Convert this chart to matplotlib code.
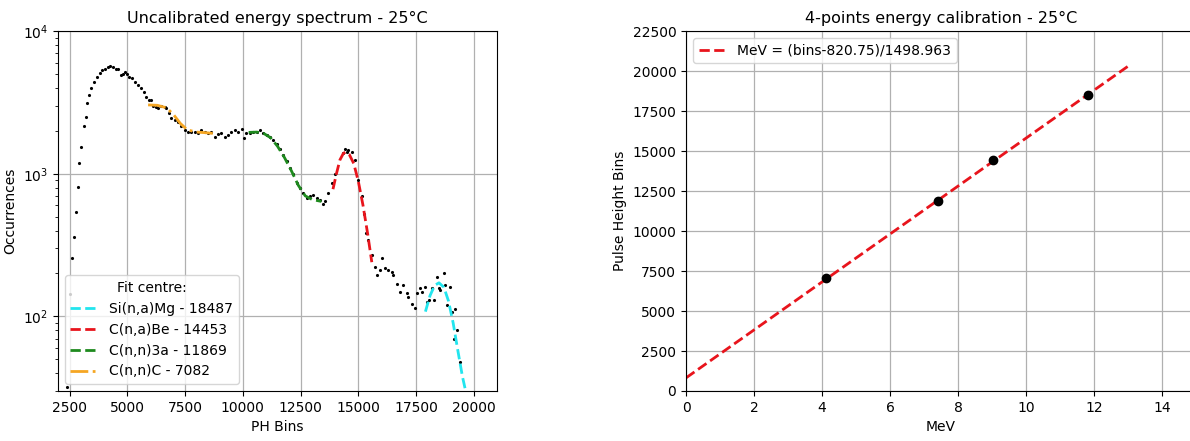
import matplotlib
matplotlib.use('Agg')
import matplotlib.pyplot as plt
import numpy as np

# Spectrum (PH bins vs occurrences)
spec_bins = [2374, 2513, 2601, 2689, 2765, 2854, 2929, 3018, 3106, 3195, 3270, 3359, 3447,
             3548, 3674, 3800, 3927, 4053, 4150, 4243, 4369, 4495, 4584, 4710, 4811, 4912,
             5000, 5090, 5215, 5340, 5470, 5594, 5720, 5824, 5939, 6040, 6112, 6229, 6329,
             6474, 6618, 6690, 6806, 6907, 7051, 7196, 7340, 7485, 7630, 7774, 7919, 8063,
             8208, 8352, 8497, 8641, 8786, 8930, 9075, 9219, 9364, 9508, 9653, 9797, 9942,
             10043, 10158, 10303, 10448, 10592, 10737, 10881, 11026, 11170, 11315, 11459,
             11604, 11748, 11893, 12037, 12182, 12326, 12471, 12615, 12760, 12904, 13049,
             13193, 13338, 13453, 13554, 13698, 13843, 14000, 14349, 14420, 14493, 14565,
             14710, 14855, 15000, 15150, 15250, 15331, 15430, 15577, 15722, 15794, 15939,
             16010, 16155, 16300, 16444, 16517, 16661, 16806, 16950, 17095, 17167, 17312,
             17428, 17528, 17644, 17745, 17890, 17962, 18034, 18179, 18251, 18396, 18468,
             18540, 18684, 18757, 18829, 18973, 19046, 19118, 19190, 19262, 19378]
spec_counts = [32, 143, 255, 360, 541, 811, 1187, 1552, 2164, 2500, 3127, 3557, 3963,
               4410, 4776, 5120, 5320, 5470, 5600, 5665, 5580, 5470, 5410, 4910, 5040, 5170,
               5040, 4776, 4660, 4410, 4170, 3963, 3750, 3480, 3290, 3290, 3010, 2950, 2910,
               3010, 2960, 2880, 2650, 2480, 2370, 2300, 2150, 2040, 1955, 1950, 1975, 1940,
               2020, 1955, 1925, 1975, 1825, 1890, 1920, 1825, 1870, 1950, 2030, 1975, 2060,
               1775, 1925, 1940, 1955, 1975, 2020, 1925, 1870, 1800, 1730, 1620,
               1480, 1360, 1220, 1100, 990, 860, 790, 730, 680, 700, 710,
               680, 660, 610, 648, 733, 860, 1000, 1395, 1480, 1418, 1470,
               1430, 1250, 900, 700, 520, 384, 345, 270, 223, 195, 211,
               255, 217, 211, 206, 195, 170, 149, 166, 145, 137, 123,
               115, 145, 157, 149, 161, 127, 130, 157, 130, 190, 157,
               153, 200, 166, 120, 161, 107, 70, 113, 80, 48]

# Fitted peaks
fit_si_bins = [17900, 18100, 18300, 18487, 18700, 18900, 19100, 19300, 19500, 19660]
fit_si_counts = [108, 140, 165, 172, 160, 128, 90, 58, 38, 29]
fit_cb_bins = [13900, 14050, 14200, 14350, 14453, 14600, 14800, 15000, 15200, 15400, 15580]
fit_cb_counts = [780, 1000, 1250, 1390, 1420, 1370, 1180, 880, 600, 380, 240]
fit_c3a_bins = [10250, 10600, 10900, 11200, 11500, 11800, 12100, 12400, 12700, 13000, 13400]
fit_c3a_counts = [1950, 1960, 1920, 1790, 1560, 1300, 1050, 830, 700, 660, 640]
fit_cc_bins = [5900, 6300, 6700, 7000, 7300, 7600, 8000, 8400, 8700]
fit_cc_counts = [3040, 3020, 2900, 2600, 2250, 2030, 1960, 1940, 1920]

fit_labels = ['Si(n,a)Mg - 18487', 'C(n,a)Be - 14453', 'C(n,n)3a - 11869', 'C(n,n)C - 7082']

# Calibration points
cal_mev = [4.12, 7.42, 9.04, 11.82]
cal_bins = [7082, 11869, 14453, 18487]
line_mev = [0, 13]
line_bins = [820.75, 20307.3]
line_label = 'MeV = (bins-820.75)/1498.963'

plt.rcParams['font.size'] = 10

fig = plt.figure(figsize=(11.9, 4.41), dpi=100)
ax1 = fig.add_axes([0.0487, 0.1134, 0.369, 0.816])
ax2 = fig.add_axes([0.5765, 0.1134, 0.4286, 0.816])

# Left: uncalibrated spectrum
ax1.plot(spec_bins, spec_counts, 'k.', markersize=2.5)
ax1.plot(fit_si_bins, fit_si_counts, '--', color='#22e5ee', lw=2, label=fit_labels[0])
ax1.plot(fit_cb_bins, fit_cb_counts, '--', color='#e8141c', lw=2, label=fit_labels[1])
ax1.plot(fit_c3a_bins, fit_c3a_counts, '--', color='#1e8a1e', lw=2, label=fit_labels[2])
ax1.plot(fit_cc_bins, fit_cc_counts, '-.', color='#f5a623', lw=2, label=fit_labels[3])
ax1.set_yscale('log')
ax1.set_xlim(2000, 21000)
ax1.set_ylim(30, 1e4)
ax1.set_xticks([2500, 5000, 7500, 10000, 12500, 15000, 17500, 20000])
ax1.set_xlabel('PH Bins')
ax1.set_ylabel('Occurrences')
ax1.set_title('Uncalibrated energy spectrum - 25°C', fontsize=11.5)
ax1.grid(True, color='#b0b0b0', lw=0.9)
ax1.legend(loc='lower left', title='Fit centre:')

# Right: calibration
ax2.plot(line_mev, line_bins, '--', color='#e8141c', lw=2, label=line_label)
ax2.plot(cal_mev, cal_bins, 'o', color='black', markersize=6)
ax2.set_xlim(0, 15)
ax2.set_ylim(0, 22500)
ax2.set_xticks([0, 2, 4, 6, 8, 10, 12, 14])
ax2.set_yticks(np.arange(0, 22501, 2500))
ax2.set_xlabel('MeV')
ax2.set_ylabel('Pulse Height Bins')
ax2.set_title('4-points energy calibration - 25°C', fontsize=11.5)
ax2.grid(True, color='#b0b0b0', lw=0.9)
ax2.legend(loc='upper left')

plt.savefig('out.png', dpi=100)
